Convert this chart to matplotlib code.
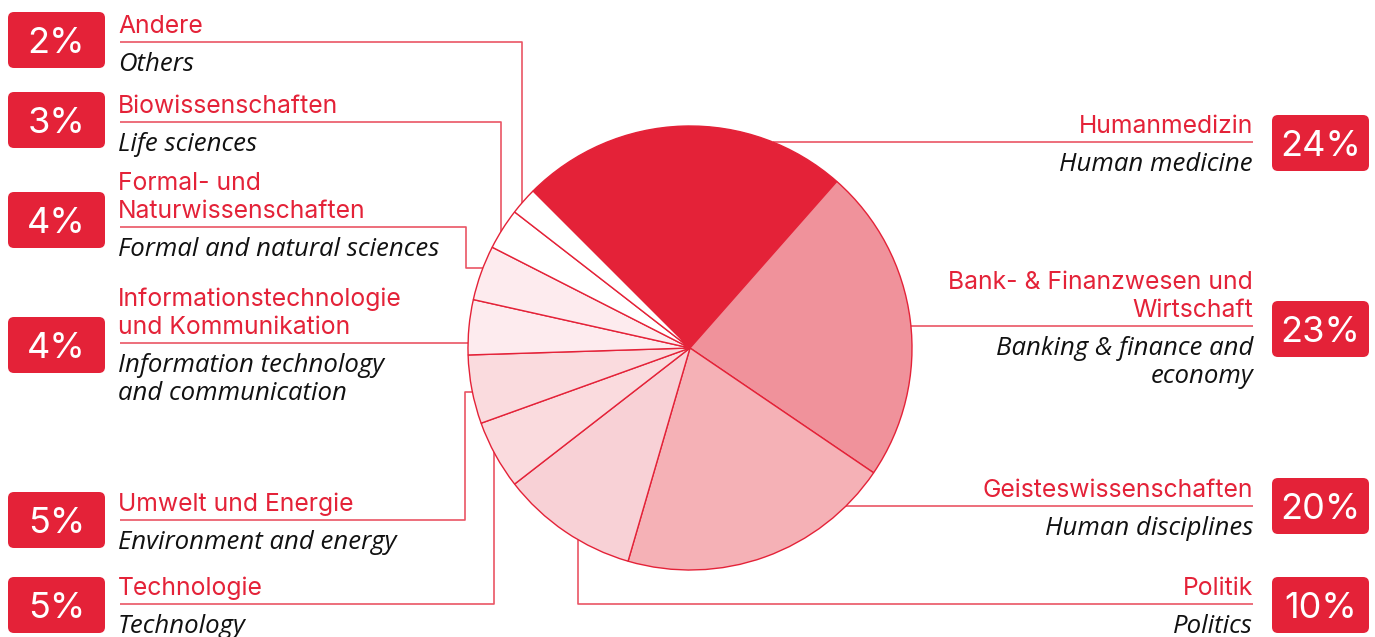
import numpy as np
import matplotlib.pyplot as plt
from matplotlib.patches import FancyBboxPatch

# data
fields_de = ['Humanmedizin', 'Bank- & Finanzwesen und\nWirtschaft', 'Geisteswissenschaften',
             'Politik', 'Technologie', 'Umwelt und Energie',
             'Informationstechnologie\nund Kommunikation', 'Formal- und\nNaturwissenschaften',
             'Biowissenschaften', 'Andere']
fields_en = ['Human medicine', 'Banking & finance and\neconomy', 'Human disciplines',
             'Politics', 'Technology', 'Environment and energy',
             'Information technology\nand communication', 'Formal and natural sciences',
             'Life sciences', 'Others']
shares = [24, 23, 20, 10, 5, 5, 4, 4, 3, 2]

RED = '#e42238'
LINE = '#ea5565'
wedge_colors = ['#e42238', '#f0929b', '#f5b1b6', '#f8d1d6', '#fadbde', '#fadbde',
                '#fdebee', '#fdebee', '#ffffff', '#ffffff']

W, H = 1375, 637
CX, CY, R = 690, 348, 222

plt.rcParams['font.family'] = ['Inter', 'DejaVu Sans']

fig = plt.figure(figsize=(W / 100, H / 100), dpi=100)
ax = fig.add_axes([0, 0, 1, 1])


def py(y):
    return H - y


ax.pie(shares, colors=wedge_colors, startangle=135, counterclock=False,
       center=(CX, py(CY)), radius=R,
       wedgeprops=dict(edgecolor=RED, linewidth=1.0))


def edge_y(x, lower=False):
    d = np.sqrt(R ** 2 - (x - CX) ** 2)
    return CY + d if lower else CY - d


def edge_x(y, right=False):
    d = np.sqrt(R ** 2 - (y - CY) ** 2)
    return CX + d if right else CX - d


# leader paths in pixel coordinates (layout)
paths = [
    [(1253, 142), (edge_x(142, True), 142)],
    [(1253, 326), (edge_x(326, True), 326)],
    [(1253, 506), (edge_x(506, True), 506)],
    [(1253, 604), (578, 604), (578, edge_y(578, True))],
    [(120, 604), (494, 604), (494, edge_y(494, True))],
    [(120, 520), (465, 520), (465, 392), (edge_x(392), 392)],
    [(120, 343), (edge_x(343), 343)],
    [(120, 227), (466, 227), (466, 268), (edge_x(268), 268)],
    [(120, 122), (501, 122), (501, edge_y(501))],
    [(120, 42), (522, 42), (522, edge_y(522))],
]
line_y = [142, 326, 506, 604, 604, 520, 343, 227, 122, 42]
box_cy = [143, 329, 506, 605, 605, 520, 345, 220, 120, 40]
right_side = [True, True, True, True, False, False, False, False, False, False]

for i, pts in enumerate(paths):
    xs = [p[0] for p in pts]
    ys = [py(p[1]) for p in pts]
    ax.plot(xs, ys, color=LINE, lw=1.2, zorder=0, solid_capstyle='butt')

    right = right_side[i]
    tx = 1253 if right else 118
    ha = 'right' if right else 'left'
    de_lines = fields_de[i].split('\n')
    for k, t in enumerate(de_lines):
        by = line_y[i] - 9 - 28 * (len(de_lines) - 1 - k)
        ax.text(tx, py(by), t, color=RED, fontsize=17.8, ha=ha, va='baseline')
    for k, t in enumerate(fields_en[i].split('\n')):
        by = line_y[i] + 29 + 28 * k
        ax.text(tx, py(by), t, color='#111111', fontsize=18.5, ha=ha, va='baseline',
                style='italic', family=['Open Sans', 'DejaVu Sans'])

    bx = 1272 if right else 8
    ax.add_patch(FancyBboxPatch((bx, py(box_cy[i] + 28)), 97, 56,
                                boxstyle='round,pad=0,rounding_size=6',
                                fc=RED, ec='none'))
    ax.text(bx + 48.5, py(box_cy[i] + 13), f'{shares[i]}%', color='white',
            fontsize=26, ha='center', va='baseline')

ax.set_xlim(0, W)
ax.set_ylim(0, H)
ax.set_aspect('equal')
ax.axis('off')

fig.savefig('out.png', dpi=100)
